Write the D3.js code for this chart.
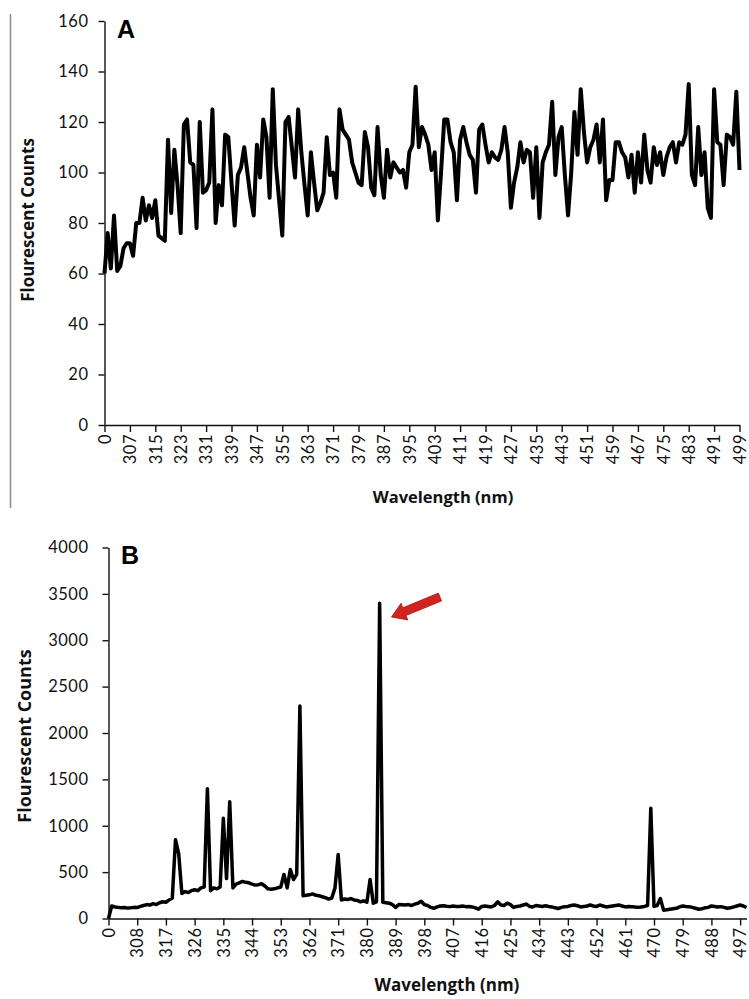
<!DOCTYPE html>
<html lang="en">
<head>
<meta charset="utf-8">
<title>Fluorescence spectra A and B</title>
<script src="https://d3js.org/d3.v7.min.js"></script>
<style>
    body { margin: 0; background: #fff; }
    svg { display: block; background: #fff; }
    .axis .tick text { font-family: Lato, "Liberation Sans", sans-serif; font-size: 16.5px; letter-spacing: 0.5px; fill: #111; }
    .axis path, .axis line { stroke: #111; stroke-width: 1.4px; }
    .title { font-family: "Open Sans", sans-serif; font-weight: 700; fill: #111; }
    .panel { font-family: "Liberation Sans", Arial, sans-serif; font-weight: 700; font-size: 25px; fill: #000; }
</style>
</head>
<body>
<svg id="chart" width="749" height="999"></svg>
<script>
// categories: first slot is labelled "0", then 300..499 nm
var wavelengths = ["0"].concat(d3.range(300, 500).map(String));

var ticksA = ["0","307","315","323","331","339","347","355","363","371","379","387","395",
              "403","411","419","427","435","443","451","459","467","475","483","491","499"];
var ticksB = ["0","308","317","326","335","344","353","362","371","380","389","398",
              "407","416","425","434","443","452","461","470","479","488","497"];

var countsA = [
    60, 76, 62, 83, 61, 63, 70, 72, 72, 67,
    80, 80, 90, 81, 87, 82, 89, 75, 74, 73,
    113, 84, 109, 95, 76, 119, 121, 104, 103, 78,
    120, 92, 93, 96, 125, 80, 95, 87, 115, 114,
    96, 79, 99, 102, 110, 100, 90, 83, 111, 98,
    121, 114, 90, 133, 103, 89, 75, 120, 122, 110,
    98, 125, 108, 95, 83, 108, 96, 85, 88, 92,
    114, 99, 100, 90, 125, 117, 115, 113, 104, 100,
    96, 95, 116, 110, 94, 91, 118, 99, 90, 109,
    98, 104, 102, 100, 101, 94, 108, 111, 134, 110,
    118, 115, 111, 101, 108, 81, 100, 121, 121, 112,
    108, 89, 113, 118, 112, 107, 105, 92, 117, 119,
    111, 104, 108, 106, 105, 109, 118, 108, 86, 96,
    102, 112, 104, 109, 108, 90, 110, 82, 104, 108,
    111, 128, 99, 114, 118, 99, 83, 100, 124, 107,
    133, 116, 104, 110, 113, 119, 104, 121, 89, 97,
    97, 112, 112, 108, 106, 98, 107, 92, 108, 96,
    115, 101, 96, 110, 103, 108, 99, 106, 110, 112,
    104, 112, 111, 115, 135, 99, 95, 118, 99, 108,
    86, 82, 133, 112, 111, 95, 115, 114, 111, 132,
    101
];

var countsB = [
    0, 135, 125, 120, 115, 118, 112, 115, 120, 118,
    130, 140, 150, 145, 160, 150, 170, 180, 175, 200,
    220, 850, 700, 270, 290, 280, 300, 310, 300, 330,
    340, 1400, 300, 330, 320, 340, 1080, 430, 1260, 330,
    370, 385, 400, 390, 385, 370, 360, 365, 375, 350,
    320, 315, 320, 330, 340, 475, 330, 528, 420, 475,
    2290, 245, 250, 255, 265, 250, 245, 235, 225, 210,
    220, 330, 690, 200, 210, 205, 215, 200, 195, 180,
    190, 175, 420, 165, 180, 3400, 175, 170, 165, 150,
    120, 150, 148, 145, 150, 140, 155, 165, 185, 150,
    140, 120, 110, 125, 135, 138, 132, 128, 135, 130,
    130, 135, 128, 130, 125, 115, 100, 130, 135, 130,
    125, 140, 180, 145, 140, 165, 150, 120, 130, 135,
    145, 155, 130, 125, 140, 135, 130, 138, 130, 125,
    115, 108, 120, 128, 130, 140, 145, 138, 125, 130,
    135, 145, 135, 130, 145, 135, 125, 130, 135, 140,
    145, 135, 125, 130, 128, 125, 120, 125, 130, 140,
    1190, 130, 140, 215, 90, 95, 100, 105, 110, 125,
    135, 130, 128, 120, 110, 100, 105, 115, 120, 135,
    130, 125, 128, 120, 110, 115, 125, 135, 145, 135,
    118
];

var svg = d3.select("#chart");

// thin grey rule on the left of panel A
svg.append("line")
    .attr("x1", 10.5).attr("x2", 10.5)
    .attr("y1", 14).attr("y2", 508)
    .attr("stroke", "#8a8a8a").attr("stroke-width", 1.5);

function drawPanel(p) {
    var x = d3.scalePoint().domain(wavelengths).range([p.x0, p.x1]);
    var y = d3.scaleLinear().domain([0, p.ymax]).range([p.y0, p.y1]);
    var g = svg.append("g");

    g.append("g")
        .attr("class", "axis")
        .attr("transform", "translate(" + p.x0 + ",0)")
        .call(d3.axisLeft(y).tickValues(p.yticks).tickFormat(d3.format("d"))
            .tickSize(6).tickPadding(p.ypad).tickSizeOuter(0));

    var xa = g.append("g")
        .attr("class", "axis")
        .attr("transform", "translate(0," + p.y0 + ")")
        .call(d3.axisBottom(x).tickValues(p.xticks).tickSize(7).tickSizeOuter(0));
    xa.selectAll(".tick text")
        .attr("transform", "rotate(-90)")
        .attr("x", -9).attr("y", 0).attr("dy", "0.35em")
        .style("text-anchor", "end");

    var line = d3.line()
        .x(function (d, i) { return x(wavelengths[i]); })
        .y(function (d) { return y(d); });
    g.append("path")
        .datum(p.values)
        .attr("d", line)
        .attr("fill", "none")
        .attr("stroke", "#000")
        .attr("stroke-width", p.lw)
        .attr("stroke-linejoin", "round");

    g.append("text").attr("class", "panel")
        .attr("x", p.letterX).attr("y", p.letterY).text(p.letter);

    g.append("text").attr("class", "title")
        .attr("transform", "translate(" + p.ytitleX + "," + p.ytitleY + ") rotate(-90)")
        .attr("text-anchor", "middle")
        .style("font-size", p.ytitleSize + "px")
        .text("Flourescent Counts");

    g.append("text").attr("class", "title")
        .attr("x", p.xtitleX).attr("y", p.xtitleY)
        .attr("text-anchor", "middle")
        .style("font-size", p.xtitleSize + "px")
        .text("Wavelength (nm)");
}

drawPanel({
    values: countsA, xticks: ticksA, yticks: d3.range(0, 161, 20),
    x0: 104.5, x1: 739.5, y0: 425, y1: 21, ymax: 160, ypad: 10, lw: 4,
    letter: "A", letterX: 117, letterY: 38,
    ytitleX: 34, ytitleY: 220, ytitleSize: 17,
    xtitleX: 443, xtitleY: 503, xtitleSize: 16.5
});

drawPanel({
    values: countsB, xticks: ticksB, yticks: d3.range(0, 4001, 500),
    x0: 108.5, x1: 746.5, y0: 918.5, y1: 547.5, ymax: 4000, ypad: 14, lw: 3.5,
    letter: "B", letterX: 121, letterY: 564,
    ytitleX: 31, ytitleY: 736, ytitleSize: 18,
    xtitleX: 447, xtitleY: 991, xtitleSize: 17
});

// red block arrow pointing at the highest peak of B
var tail = [440, 597], tip = [391.5, 617];
var dx = tip[0] - tail[0], dy = tip[1] - tail[1];
var len = Math.sqrt(dx * dx + dy * dy);
var ux = dx / len, uy = dy / len, nx = -uy, ny = ux;
var headLen = 14, shaftW = 4.2, headW = 9;
var nk = [tip[0] - ux * headLen, tip[1] - uy * headLen];
var pts = [
    [tail[0] + nx * shaftW, tail[1] + ny * shaftW],
    [nk[0] + nx * shaftW, nk[1] + ny * shaftW],
    [nk[0] + nx * headW, nk[1] + ny * headW],
    tip,
    [nk[0] - nx * headW, nk[1] - ny * headW],
    [nk[0] - nx * shaftW, nk[1] - ny * shaftW],
    [tail[0] - nx * shaftW, tail[1] - ny * shaftW]
];
svg.append("polygon")
    .attr("points", pts.map(function (p) { return p.join(","); }).join(" "))
    .attr("fill", "#d0251f")
    .attr("stroke", "#a31a15")
    .attr("stroke-width", 0.8);
</script>
</body>
</html>
